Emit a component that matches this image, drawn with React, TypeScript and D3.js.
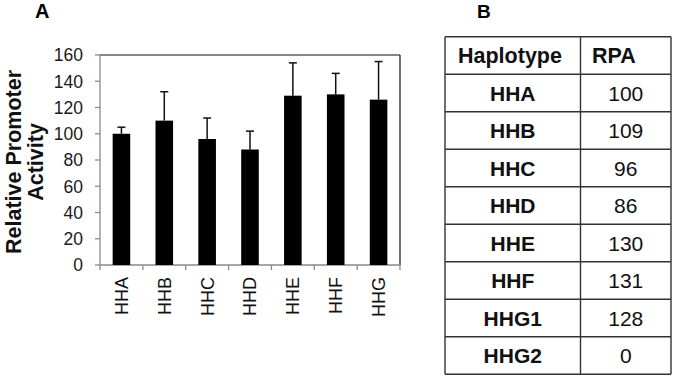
import React, { useRef, useEffect } from "react";
import * as d3 from "d3";

const haplotypes = ["HHA", "HHB", "HHC", "HHD", "HHE", "HHF", "HHG"];
const activity = [100, 110, 96, 88, 129, 130, 126];
const errorTop = [105, 132, 112, 102, 154, 146, 155];
const yTicks = [0, 20, 40, 60, 80, 100, 120, 140, 160];

const tableHeader = ["Haplotype", "RPA"];
const tableNames = ["HHA", "HHB", "HHC", "HHD", "HHE", "HHF", "HHG1", "HHG2"];
const tableRpa = ["100", "109", "96", "86", "130", "131", "128", "0"];

const FONT = "'Liberation Sans', Arial, sans-serif";

export default function App() {
  const ref = useRef<SVGSVGElement>(null);

  useEffect(() => {
    const svg = d3.select(ref.current);
    svg.selectAll("*").remove();

    const left = 100, right = 400, top = 55, bottom = 265;

    const x = d3.scaleBand().domain(haplotypes).range([left, right]).paddingInner(0.59).paddingOuter(0.295);
    const y = d3.scaleLinear().domain([0, 160]).range([bottom, top]);
    const band = (right - left) / haplotypes.length;

    // panel labels
    svg.append("text").attr("x", 35).attr("y", 17.5).text("A")
      .attr("font-family", FONT).attr("font-weight", "bold").attr("font-size", 20);
    svg.append("text").attr("x", 477).attr("y", 17.5).text("B")
      .attr("font-family", FONT).attr("font-weight", "bold").attr("font-size", 19);

    // frame: top + right black
    svg.append("line").attr("x1", left).attr("x2", right).attr("y1", top).attr("y2", top)
      .attr("stroke", "#111").attr("stroke-width", 1.2);
    svg.append("line").attr("x1", right).attr("x2", right).attr("y1", top).attr("y2", bottom)
      .attr("stroke", "#111").attr("stroke-width", 1.2);

    // y axis
    const gy = svg.append("g");
    gy.append("line").attr("x1", left).attr("x2", left).attr("y1", top).attr("y2", bottom)
      .attr("stroke", "#8a8a8a").attr("stroke-width", 1.3);
    gy.selectAll("line.tick").data(yTicks).enter().append("line")
      .attr("class", "tick")
      .attr("x1", left - 5).attr("x2", left)
      .attr("y1", d => y(d)).attr("y2", d => y(d))
      .attr("stroke", "#8a8a8a").attr("stroke-width", 1.3);
    gy.selectAll("text").data(yTicks).enter().append("text")
      .attr("x", 83).attr("y", d => y(d)).attr("dy", "0.36em")
      .attr("text-anchor", "end")
      .attr("font-family", FONT).attr("font-size", 17.5).attr("fill", "#1a1a1a")
      .text(d => d);

    // y title
    const title = svg.append("text")
      .attr("transform", "translate(0,162) rotate(-90)")
      .attr("text-anchor", "middle")
      .attr("font-family", FONT).attr("font-weight", "bold").attr("font-size", 21.5).attr("fill", "#111");
    title.append("tspan").attr("x", 0).attr("y", 21).text("Relative Promoter");
    title.append("tspan").attr("x", 0).attr("y", 43).text("Activity");

    // x axis
    const gx = svg.append("g");
    gx.append("line").attr("x1", left).attr("x2", right).attr("y1", bottom).attr("y2", bottom)
      .attr("stroke", "#8a8a8a").attr("stroke-width", 1.3);
    gx.selectAll("line.tick").data(d3.range(haplotypes.length + 1)).enter().append("line")
      .attr("class", "tick")
      .attr("x1", i => left + i * band).attr("x2", i => left + i * band)
      .attr("y1", bottom).attr("y2", bottom + 5)
      .attr("stroke", "#8a8a8a").attr("stroke-width", 1.3);
    gx.selectAll("text").data(haplotypes).enter().append("text")
      .attr("transform", d => "translate(" + (x(d)! + x.bandwidth() / 2) + ",277) rotate(-90)")
      .attr("text-anchor", "end").attr("dy", "0.36em")
      .attr("font-family", FONT).attr("font-size", 18).attr("fill", "#111")
      .text(d => d);

    // error bars (upper only)
    const err = svg.append("g");
    haplotypes.forEach((h, i) => {
      const cx = x(h)! + x.bandwidth() / 2;
      err.append("line").attr("x1", cx).attr("x2", cx)
        .attr("y1", y(activity[i])).attr("y2", y(errorTop[i]))
        .attr("stroke", "#111").attr("stroke-width", 1.5);
      err.append("line").attr("x1", cx - 4).attr("x2", cx + 4)
        .attr("y1", y(errorTop[i])).attr("y2", y(errorTop[i]))
        .attr("stroke", "#111").attr("stroke-width", 1.5);
    });

    // bars
    svg.append("g").selectAll("rect").data(haplotypes).enter().append("rect")
      .attr("x", d => x(d)!)
      .attr("width", x.bandwidth())
      .attr("y", (d, i) => y(activity[i]))
      .attr("height", (d, i) => bottom - y(activity[i]))
      .attr("fill", "#000");

    // table
    const tLeft = 445, tMid = 580.5, tRight = 671, tTop = 36.7, rowH = 37.5;
    const nRows = tableNames.length + 1;
    const rowY = d3.scaleLinear().domain([0, nRows]).range([tTop, tTop + nRows * rowH]);
    const tbl = svg.append("g");
    tbl.selectAll("line.h").data(d3.range(nRows + 1)).enter().append("line")
      .attr("class", "h")
      .attr("x1", tLeft).attr("x2", tRight)
      .attr("y1", i => rowY(i)).attr("y2", i => rowY(i))
      .attr("stroke", "#333").attr("stroke-width", 1.4);
    [tLeft, tMid, tRight].forEach(vx => {
      tbl.append("line").attr("x1", vx).attr("x2", vx)
        .attr("y1", rowY(0)).attr("y2", rowY(nRows))
        .attr("stroke", "#333").attr("stroke-width", 1.4);
    });

    tbl.append("text").attr("x", 458).attr("y", rowY(0.5)).attr("dy", "0.36em")
      .attr("font-family", FONT).attr("font-weight", "bold").attr("font-size", 21.5).attr("fill", "#111")
      .text(tableHeader[0]);
    tbl.append("text").attr("x", 592).attr("y", rowY(0.5)).attr("dy", "0.36em")
      .attr("font-family", FONT).attr("font-weight", "bold").attr("font-size", 21.5).attr("fill", "#111")
      .text(tableHeader[1]);

    tbl.selectAll("text.name").data(tableNames).enter().append("text")
      .attr("class", "name")
      .attr("x", (tLeft + tMid) / 2).attr("y", (d, i) => rowY(i + 1.5)).attr("dy", "0.36em")
      .attr("text-anchor", "middle")
      .attr("font-family", FONT).attr("font-weight", "bold").attr("font-size", 21).attr("fill", "#111")
      .text(d => d);
    tbl.selectAll("text.val").data(tableRpa).enter().append("text")
      .attr("class", "val")
      .attr("x", (tMid + tRight) / 2).attr("y", (d, i) => rowY(i + 1.5)).attr("dy", "0.36em")
      .attr("text-anchor", "middle")
      .attr("font-family", FONT).attr("font-size", 21).attr("fill", "#111")
      .text(d => d);
  }, []);

  return (
    <svg ref={ref} width={675} height={379}
      style={{ position: "absolute", left: 0, top: 0, background: "#fff" }} />
  );
}
